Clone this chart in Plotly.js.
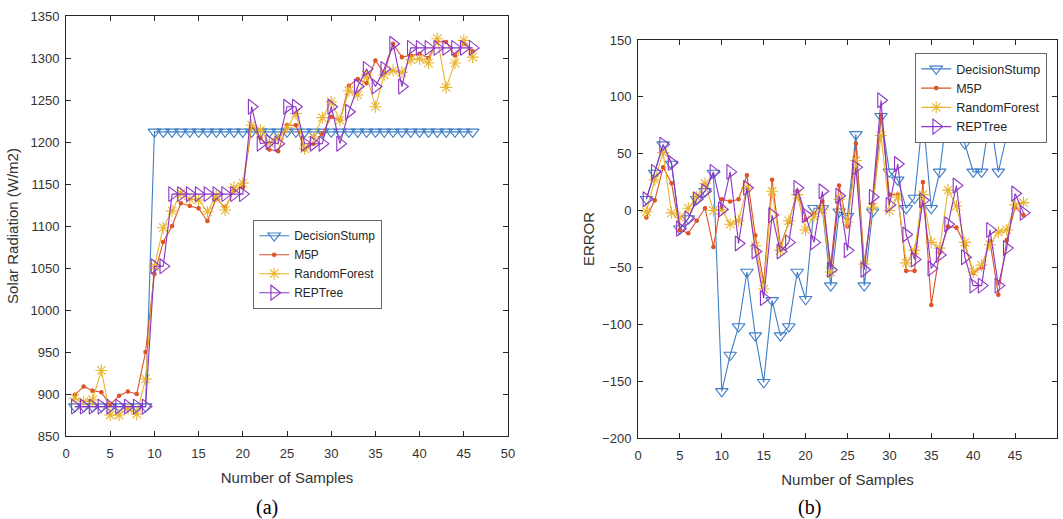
<!DOCTYPE html>
<html>
<head>
<meta charset="utf-8">
<script src="https://cdn.plot.ly/plotly-3.0.1.min.js"></script>
<style>html,body{margin:0;padding:0;background:#fff;}#chart{width:1063px;height:519px;}</style>
</head>
<body>
<div id="chart"></div>
<script>
// ---- data ----
const samples = [1,2,3,4,5,6,7,8,9,10,11,12,13,14,15,16,17,18,19,20,21,22,23,24,25,26,27,28,29,30,31,32,33,34,35,36,37,38,39,40,41,42,43,44,45,46];
const seriesNames = ["DecisionStump","M5P","RandomForest","REPTree"];

// (a) predicted solar radiation (W/m2)
const predDecisionStump = [885,885,885,885,885,885,885,885,885,1212,1212,1212,1212,1212,1212,1212,1212,1212,1212,1212,1212,1212,1212,1212,1212,1212,1212,1212,1212,1212,1212,1212,1212,1212,1212,1212,1212,1212,1212,1212,1212,1212,1212,1212,1212,1212];
const predM5P = [899,909,904,902,887,898,903,900,950,1043,1081,1100,1127,1124,1121,1106,1133,1122,1142,1146,1218,1205,1191,1189,1220,1220,1191,1198,1210,1230,1226,1267,1275,1270,1297,1282,1317,1301,1303,1305,1300,1320,1319,1303,1317,1308];
const predRandomForest = [895,891,893,928,875,875,883,876,918,1052,1098,1118,1139,1132,1131,1117,1136,1119,1146,1151,1220,1214,1199,1204,1217,1234,1192,1206,1229,1248,1226,1261,1256,1280,1242,1280,1285,1283,1298,1299,1294,1323,1265,1294,1321,1301];
const predREPTree = [885,885,885,885,885,885,885,885,885,1052,1052,1138,1138,1138,1138,1138,1138,1138,1138,1138,1242,1198,1200,1198,1242,1242,1198,1198,1198,1242,1198,1236,1266,1287,1266,1287,1317,1266,1312,1312,1312,1312,1312,1312,1312,1312];

// (b) error
const errDecisionStump = [10,33,58,41,-16,-7,10,17,33,-159,-127,-102,-54,-110,-151,-79,-110,-102,-54,-78,2,2,-66,-1,-5,67,-66,-1,83,34,27,2,11,84,2,34,93,76,59,34,34,83,34,66,114,98];
const errM5P = [-6,9,38,24,-17,-20,-9,2,-32,10,8,10,31,-22,-63,27,-31,-10,17,-8,-3,8,-48,22,-14,59,-46,6,84,14,14,-53,-53,25,-83,-37,-14,-15,-30,-55,-50,-27,-74,-26,3,-4];
const errRandomForest = [-1,27,51,-2,-6,2,12,24,0,1,-12,-9,20,-31,-69,17,-35,-9,14,-17,-5,1,-54,10,-10,44,-47,3,66,0,12,-46,-35,14,-28,-33,18,4,-28,-54,-48,-30,-19,-17,5,7];
const errREPTree = [10,34,58,42,-16,-7,10,17,34,1,34,-29,20,-36,-77,-4,-36,-28,20,-4,-28,17,-52,13,-35,38,-52,12,97,5,41,-21,-43,9,-51,-39,-12,22,-41,-66,-66,-17,-66,-33,15,-2];

const xTicks = [0,5,10,15,20,25,30,35,40,45,50];
const yTicksA = [850,900,950,1000,1050,1100,1150,1200,1250,1300,1350];
const yTicksB = [-200,-150,-100,-50,0,50,100,150];

// ---- styles ----
const colors = ["#3f7ec6","#de5226","#e9b52f","#8b35c2"];
const markers = [
  {symbol:"triangle-down-open", size:11},
  {symbol:"circle", size:3.5},
  {symbol:"asterisk-open", size:10},
  {symbol:"triangle-right-open", size:13}
];
const predSets = [predDecisionStump, predM5P, predRandomForest, predREPTree];
const errSets = [errDecisionStump, errM5P, errRandomForest, errREPTree];

const traces = [];
for (let i = 0; i < 4; i++) {
  traces.push({
    x: samples, y: predSets[i], name: seriesNames[i], type: "scatter", mode: "lines+markers",
    xaxis: "x", yaxis: "y", legend: "legend",
    line: {color: colors[i], width: 1.1},
    marker: {symbol: markers[i].symbol, size: markers[i].size, color: colors[i], line: {color: colors[i], width: 1.1}}
  });
}
for (let i = 0; i < 4; i++) {
  traces.push({
    x: samples, y: errSets[i], name: seriesNames[i], type: "scatter", mode: "lines+markers",
    xaxis: "x2", yaxis: "y2", legend: "legend2",
    line: {color: colors[i], width: 1.1},
    marker: {symbol: markers[i].symbol, size: markers[i].size, color: colors[i], line: {color: colors[i], width: 1.1}}
  });
}

const W = 1063, H = 519;
const fontFam = "Liberation Sans, Arial, sans-serif";
const axCommon = {
  showgrid: false, zeroline: false, showline: true, linecolor: "#262626", linewidth: 1,
  ticks: "inside", ticklen: 5, tickcolor: "#262626", mirror: "ticks",
  tickfont: {family: fontFam, size: 13, color: "#333"}
};
const titleFont = {family: fontFam, size: 15, color: "#333"};

const layout = {
  width: W, height: H,
  margin: {l: 0, r: 0, t: 0, b: 0},
  paper_bgcolor: "#fff", plot_bgcolor: "#fff",
  font: {family: fontFam, color: "#262626"},
  showlegend: true,
  xaxis: Object.assign({}, axCommon, {
    domain: [66/W, 508/W], range: [0, 50], tickvals: xTicks, anchor: "y", ticklabelstandoff: 5,
    title: {text: "Number of Samples", font: titleFont, standoff: 12}
  }),
  yaxis: Object.assign({}, axCommon, {
    domain: [1-436/H, 1-16/H], range: [850, 1350], tickvals: yTicksA, anchor: "x", ticklabelstandoff: 3,
    title: {text: "Solar Radiation (W/m2)", font: titleFont, standoff: 8}
  }),
  xaxis2: Object.assign({}, axCommon, {
    domain: [638/W, 1057/W], range: [0, 50], tickvals: xTicks, anchor: "y2", ticklabelstandoff: 5,
    title: {text: "Number of Samples", font: titleFont, standoff: 12}
  }),
  yaxis2: Object.assign({}, axCommon, {
    domain: [1-438/H, 1-40/H], range: [-200, 150], tickvals: yTicksB, anchor: "x2", ticklabelstandoff: 3,
    title: {text: "ERROR", font: titleFont, standoff: 3}
  }),
  legend: {
    x: 253/W, y: 1-220/H, xanchor: "left", yanchor: "top",
    bgcolor: "#fff", bordercolor: "#666", borderwidth: 1.2,
    font: {family: fontFam, size: 12, color: "#262626"}, tracegroupgap: 0, itemwidth: 30
  },
  legend2: {
    x: 915/W, y: 1-53/H, xanchor: "left", yanchor: "top",
    bgcolor: "#fff", bordercolor: "#666", borderwidth: 1.2,
    font: {family: fontFam, size: 12.5, color: "#262626"}, tracegroupgap: 0, itemwidth: 30
  },
  annotations: [
    {text: "(a)", xref: "paper", yref: "paper", x: 267/W, y: 1-507/H, xanchor: "center", yanchor: "middle", showarrow: false, font: {family: "Liberation Serif, Times New Roman, serif", size: 20, color: "#000"}},
    {text: "(b)", xref: "paper", yref: "paper", x: 809/W, y: 1-507/H, xanchor: "center", yanchor: "middle", showarrow: false, font: {family: "Liberation Serif, Times New Roman, serif", size: 20, color: "#000"}}
  ]
};

Plotly.newPlot("chart", traces, layout, {displayModeBar: false, staticPlot: true});
</script>
</body>
</html>
